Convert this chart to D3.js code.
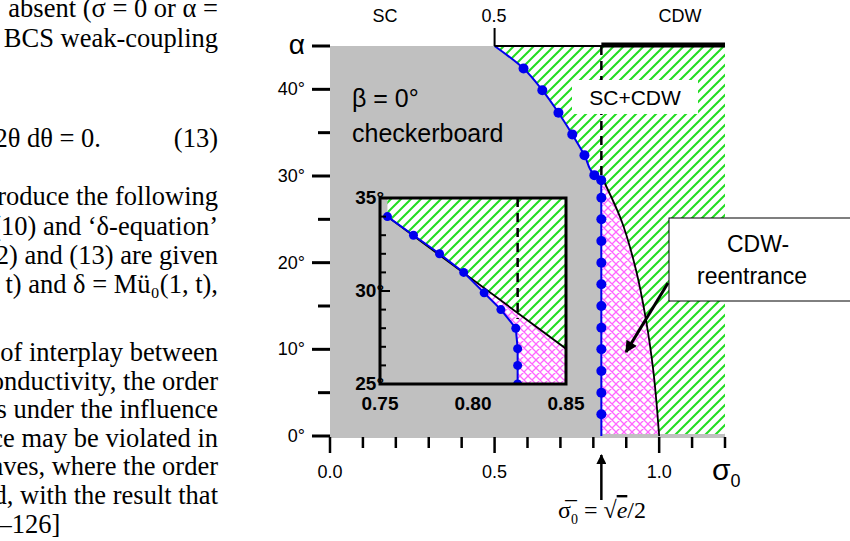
<!DOCTYPE html>
<html><head><meta charset="utf-8">
<script src="https://cdn.jsdelivr.net/npm/d3@7"></script>
<style>body{margin:0;background:#fff}</style>
</head><body>
<svg id="c" width="850" height="541"></svg>
<script>
// page text to the left of the figure (cropped column)
const textLines = [
  ["absent (\u03c3 = 0 or \u03b1 =", 17], ["the BCS weak-coupling", 47],
  ["cos\u00b22\u03b8 d\u03b8 = 0.\u00a0\u00a0\u00a0\u00a0\u00a0\u00a0\u00a0\u00a0\u00a0\u00a0\u00a0(13)", 147],
  ["introduce the following", 205], ["(10) and \u2018\u03b4-equation\u2019", 235],
  ["(12) and (13) are given", 264], ["t) and \u03b4 = M\u00fc\u2080(1, t),", 293],
  ["of interplay between", 361], ["conductivity, the order", 390],
  ["is under the influence", 418], ["ence may be violated in", 447],
  ["waves, where the order", 475], ["d, with the result that", 504]
];
const lastLine = "[124\u2013126]";
// SC boundary (blue dots) above 30 deg, then vertical at sqrt(e)/2
const sigmaBar = Math.sqrt(Math.E) / 2;
const blueCurve = [[0.5,45],[0.588,42.4],[0.645,39.9],[0.694,37.3],[0.736,34.8],[0.773,32.4],[0.803,30.1],[0.824,29.5]];
const blueVert = [27.5,25,22.5,20,17.5,15,12.5,10,7.5,5,2.5];
// CDW reentrance boundary (black)
const blackCurve = [[0.824,30],[0.885,24.9],[0.93,19.1],[0.96,13.4],[0.982,7.6],[1.0,0]];
// inset data
const insetDots = [[0.754,34.0],[0.768,33.0],[0.782,32.0],[0.795,31.0],[0.806,29.9],[0.815,29.0],[0.823,28.0],[0.824,26.9],[0.824,26.0],[0.824,25.0]];
const insetBlack = [[0.754,34.0],[0.85,26.9]];
const yTicks = [0,5,10,15,20,25,30,35,40,45];
const yLabels = {0:"0\u00b0",10:"10\u00b0",20:"20\u00b0",30:"30\u00b0",40:"40\u00b0",45:"\u03b1"};
const xTicks = d3.range(0, 1.21, 0.1);
const xLabels = [0, 0.5, 1.0];
const insetYTicks = d3.range(25, 35.1, 1);

const svg = d3.select("#c");
const defs = svg.append("defs");
const pg = defs.append("pattern").attr("id","green").attr("patternUnits","userSpaceOnUse")
  .attr("width",10).attr("height",10);
pg.append("rect").attr("width",10).attr("height",10).attr("fill","#fff");
pg.append("path").attr("d","M-2,12 L12,-2 M-2,2 L2,-2 M8,12 L12,8").attr("stroke","#22dd22").attr("stroke-width",2);
const pp = defs.append("pattern").attr("id","pink").attr("patternUnits","userSpaceOnUse")
  .attr("width",8).attr("height",8);
pp.append("rect").attr("width",8).attr("height",8).attr("fill","#fff");
pp.append("path").attr("d","M0,8 L8,0 M0,0 L8,8 M-1,1 L1,-1 M7,9 L9,7").attr("stroke","#ff66ff").attr("stroke-width",1.3);

// text column
const tg = svg.append("g").attr("font-family","Liberation Serif, Times New Roman, serif").attr("font-size",26.5);
tg.selectAll("text").data(textLines).join("text")
  .attr("x", 218).attr("text-anchor","end").attr("y", d => d[1]).text(d => d[0]);
tg.append("text").attr("x",-50).attr("y",533).text(lastLine);

const x = d3.scaleLinear([0,1.2],[330,725]);
const y = d3.scaleLinear([0,45],[436,46]);
const smooth = d3.line().x(d => x(d[0])).y(d => y(d[1])).curve(d3.curveMonotoneY);

const bluePts = blueCurve.concat(blueVert.map(a => [sigmaBar,a]));
const blueD = smooth(blueCurve) + "L" + x(sigmaBar) + "," + y(0);
// regions
svg.append("rect").attr("x",x(0)).attr("y",y(45)).attr("width",x(1.2)-x(0)).attr("height",y(0)-y(45)).attr("fill","url(#green)");
svg.append("path").attr("d", smooth(blackCurve) + "L" + x(sigmaBar) + "," + y(0) + "Z").attr("fill","url(#pink)");
svg.append("path").attr("d", "M" + x(0) + "," + y(0) + "L" + x(0) + "," + y(45) + blueD.replace(/^M/, "L") + "Z").attr("fill","#c0c0c0");
svg.append("line").attr("x1",x(0)).attr("x2",x(1.2)).attr("y1",y(0)).attr("y2",y(0)).attr("stroke","#c0c0c0").attr("stroke-width",4);

// boundaries
svg.append("path").attr("d", smooth(blackCurve)).attr("fill","none").attr("stroke","#000").attr("stroke-width",1.8);
svg.append("path").attr("d", blueD).attr("fill","none").attr("stroke","#0000ee").attr("stroke-width",2);
svg.append("g").selectAll("circle").data(bluePts.slice(1)).join("circle")
  .attr("cx", d => x(d[0])).attr("cy", d => y(d[1])).attr("r",5).attr("fill","#0000ee");
svg.append("line").attr("x1",x(sigmaBar)).attr("x2",x(sigmaBar)).attr("y1",y(45)).attr("y2",y(30))
  .attr("stroke","#000").attr("stroke-width",2.5).attr("stroke-dasharray","9,6");
svg.append("line").attr("x1",x(0.5)).attr("x2",x(1.2)).attr("y1",y(45)).attr("y2",y(45)).attr("stroke","#000").attr("stroke-width",2);
svg.append("line").attr("x1",x(sigmaBar)).attr("x2",x(1.2)).attr("y1",y(45)-1).attr("y2",y(45)-1).attr("stroke","#000").attr("stroke-width",5);
svg.append("line").attr("x1",x(0.5)).attr("x2",x(0.5)).attr("y1",y(45)).attr("y2",y(45)-18).attr("stroke","#000").attr("stroke-width",2);

// axes
const f = "Liberation Sans, Arial, sans-serif";
svg.append("g").selectAll("line").data(yTicks).join("line")
  .attr("x1", d => yLabels[d] ? 312 : 318).attr("x2", 330).attr("y1", d => y(d)).attr("y2", d => y(d))
  .attr("stroke","#000").attr("stroke-width",3);
svg.append("g").attr("font-family",f).attr("text-anchor","end").selectAll("text")
  .data(yTicks.filter(d => yLabels[d])).join("text")
  .attr("x",305).attr("y", d => y(d) + (d === 45 ? 8 : 6))
  .attr("font-size", d => d === 45 ? 28 : 18).text(d => yLabels[d]);
svg.append("g").selectAll("line").data(xTicks).join("line")
  .attr("x1", d => x(d)).attr("x2", d => x(d)).attr("y1",437).attr("y2", d => xLabels.some(v => Math.abs(v-d)<1e-6) ? 453 : 448)
  .attr("stroke","#000").attr("stroke-width",2.5);
svg.append("g").attr("font-family",f).attr("font-size",18).attr("text-anchor","middle").selectAll("text")
  .data(xLabels).join("text").attr("x", d => x(d)).attr("y",478).text(d => d.toFixed(1));
const sx = svg.append("text").attr("font-family",f).attr("x",712).attr("y",480).attr("font-size",30).text("\u03c3");
sx.append("tspan").attr("font-size",18).attr("dy",7).text("0");

svg.append("g").attr("font-family",f).attr("font-size",18).attr("text-anchor","middle").selectAll("text")
  .data([["SC",385],["0.5",494],["CDW",680]]).join("text").attr("x", d => d[1]).attr("y",22).text(d => d[0]);

// labels
svg.append("text").attr("font-family",f).attr("font-size",25).attr("x",352).attr("y",107).text("\u03b2 = 0\u00b0");
svg.append("text").attr("font-family",f).attr("font-size",25).attr("x",352).attr("y",142).text("checkerboard");
svg.append("rect").attr("x",572).attr("y",80).attr("width",126).attr("height",34).attr("fill","#fff");
svg.append("text").attr("font-family",f).attr("font-size",21).attr("x",635).attr("y",105).attr("text-anchor","middle").text("SC+CDW");
svg.append("rect").attr("x",669).attr("y",218).attr("width",185).attr("height",83).attr("fill","#fff").attr("stroke","#000").attr("stroke-width",1);
svg.append("text").attr("font-family",f).attr("font-size",23).attr("x",758).attr("y",252).attr("text-anchor","middle").text("CDW-");
svg.append("text").attr("font-family",f).attr("font-size",23).attr("x",752).attr("y",284).attr("text-anchor","middle").text("reentrance");
defs.append("marker").attr("id","ah").attr("viewBox","0 0 10 10").attr("refX",9).attr("refY",5)
  .attr("markerWidth",5).attr("markerHeight",4).attr("orient","auto")
  .append("path").attr("d","M0,0 L10,5 L0,10 z").attr("fill","#000");
svg.append("line").attr("x1",668).attr("y1",283).attr("x2",626).attr("y2",352).attr("stroke","#000").attr("stroke-width",3).attr("marker-end","url(#ah)");
svg.append("line").attr("x1",x(sigmaBar)).attr("y1",500).attr("x2",x(sigmaBar)).attr("y2",455).attr("stroke","#000").attr("stroke-width",2.5).attr("marker-end","url(#ah)");
const sb = svg.append("text").attr("font-family","Liberation Serif, serif").attr("font-size",24).attr("x",558).attr("y",518);
sb.append("tspan").text("\u03c3\u0305");
sb.append("tspan").attr("font-size",14).attr("dy",6).text("0");
sb.append("tspan").attr("dy",-6).text(" = \u221a");
sb.append("tspan").attr("font-style","italic").attr("text-decoration","overline").text("e");
sb.append("tspan").text("/2");

// inset
const ix = d3.scaleLinear([0.75,0.85],[380,566]);
const iy = d3.scaleLinear([25,35],[384,198]);
const il = d3.line().x(d => ix(d[0])).y(d => iy(d[1]));
defs.append("clipPath").attr("id","ic").append("rect").attr("x",380).attr("y",198).attr("width",186).attr("height",186);
const ig = svg.append("g").attr("clip-path","url(#ic)");
ig.append("rect").attr("x",380).attr("y",198).attr("width",186).attr("height",186).attr("fill","url(#green)");
ig.append("path").attr("d", il(insetDots.concat([[0.824,24],[0.86,24]], insetBlack.slice().reverse()))).attr("fill","url(#pink)");
ig.append("path").attr("d", il([[0.74,24],[0.74,36],[0.754,36]].concat(insetDots,[[0.824,24]]))).attr("fill","#c0c0c0");
ig.append("line").attr("x1",ix(0.824)).attr("x2",ix(0.824)).attr("y1",iy(35)).attr("y2",iy(28.5))
  .attr("stroke","#000").attr("stroke-width",2.5).attr("stroke-dasharray","9,6");
ig.append("path").attr("d", il(insetBlack)).attr("stroke","#000").attr("stroke-width",1.8);
ig.append("path").attr("d", il(insetDots.concat([[0.824,24]]))).attr("fill","none").attr("stroke","#0000ee").attr("stroke-width",2);
ig.selectAll("circle").data(insetDots).join("circle").attr("cx", d => ix(d[0])).attr("cy", d => iy(d[1])).attr("r",4.5).attr("fill","#0000ee");
svg.append("path").attr("d","M380,198 H566 V384 H380 Z").attr("fill","none").attr("stroke","#000").attr("stroke-width",3);
svg.append("g").selectAll("line").data(insetYTicks).join("line")
  .attr("x1",380).attr("x2", d => d % 5 === 0 ? 390 : 386).attr("y1", d => iy(d)).attr("y2", d => iy(d)).attr("stroke","#000").attr("stroke-width",2);
svg.append("g").attr("font-family",f).attr("font-weight","bold").attr("font-size",19).attr("text-anchor","end")
  .selectAll("text").data([25,30,35]).join("text").attr("x",384).attr("y", d => iy(d)+6).text(d => d + "\u00b0");
svg.append("g").attr("font-family",f).attr("font-weight","bold").attr("font-size",19).attr("text-anchor","middle")
  .selectAll("text").data([0.75,0.80,0.85]).join("text").attr("x", d => ix(d)).attr("y",410).text(d => d.toFixed(2));
</script>
</body></html>
